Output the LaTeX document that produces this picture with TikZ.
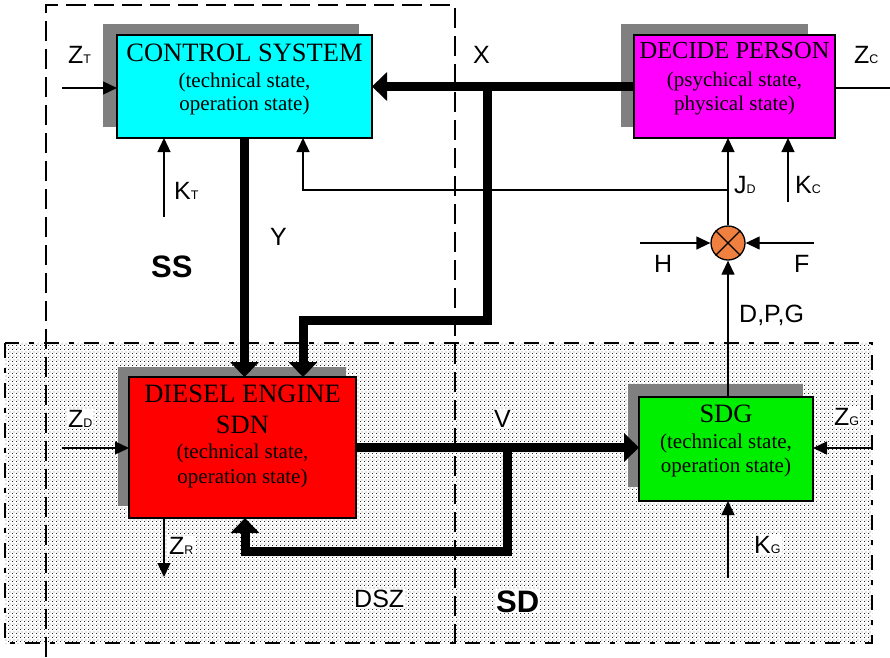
\documentclass[tikz,border=0pt]{standalone}
\usepackage{fontspec}
\setmainfont{Liberation Serif}
\setsansfont{Liberation Sans}
\usetikzlibrary{arrows.meta,patterns}
\definecolor{shadowgray}{RGB}{128,128,128}
\definecolor{sumorange}{RGB}{240,128,64}
\definecolor{boxcyan}{RGB}{0,255,255}
\definecolor{boxmag}{RGB}{255,0,255}
\definecolor{boxred}{RGB}{255,0,0}
\definecolor{boxgreen}{RGB}{0,238,0}
\pgfdeclarepatternformonly{finedots}{\pgfqpoint{0pt}{0pt}}{\pgfqpoint{4pt}{4pt}}{\pgfqpoint{4pt}{4pt}}{%
  \pgfpathrectangle{\pgfqpoint{0pt}{0pt}}{\pgfqpoint{1.1pt}{1.1pt}}%
  \pgfpathrectangle{\pgfqpoint{2pt}{2pt}}{\pgfqpoint{1.1pt}{1.1pt}}%
  \pgfusepath{fill}}
\newcommand\lsub[1]{{\fontsize{12.5}{12.5}\selectfont #1}}
\tikzset{
  shadowbox/.style={fill=shadowgray, draw=none, inner sep=0pt, anchor=north west, outer sep=0pt},
  mainbox/.style={draw=black, line width=1.5pt, inner sep=0pt, anchor=north west, outer sep=0pt},
  ttl/.style={font=\fontsize{26.5}{28}\selectfont, anchor=base, inner sep=0pt},
  subt/.style={font=\fontsize{21}{23}\selectfont, anchor=base, inner sep=0pt},
  lab/.style={font=\fontsize{25}{25}\selectfont\sffamily, inner sep=1pt, anchor=base west, fill=white},
  boldlab/.style={font=\fontsize{31}{31}\selectfont\sffamily\bfseries, inner sep=1pt, anchor=base west, fill=white},
  thinarrow/.style={line width=1.3pt, -{Triangle[length=14pt,width=13pt]}},
  thinline/.style={line width=1.3pt},
  thickarrow/.style={line width=9pt, -{Triangle[length=15pt,width=28pt]}},
  regiondash/.style={line width=1.2pt, dash pattern=on 20pt off 8pt},
  shadedash/.style={line width=1.2pt, dash pattern=on 15pt off 10pt on 5pt off 10pt},
}
\begin{document}
\begin{tikzpicture}[x=1pt,y=-1pt]
\useasboundingbox (0,0) rectangle (890,657);
% shaded region
\fill[white] (5,343) rectangle (872,643);
\fill[pattern=finedots, pattern color=black!85] (5,343) rectangle (872,643);
\draw[shadedash] (5,343) rectangle (872,643);
% SS region
\draw[regiondash] (46,657) -- (46,5) -- (455,5) -- (455,650);

% boxes
\node[shadowbox, minimum width=256pt, minimum height=103pt] (csh) at (103,24) {};
\node[mainbox, fill=boxcyan, minimum width=255pt, minimum height=103pt] (cs) at (117,35) {};
\node[shadowbox, minimum width=187pt, minimum height=103pt] (dph) at (621,24) {};
\node[mainbox, fill=boxmag, minimum width=201pt, minimum height=103pt] (dp) at (634,35) {};
\node[shadowbox, minimum width=228pt, minimum height=139pt] (deh) at (118,367) {};
\node[mainbox, fill=boxred, minimum width=227pt, minimum height=141pt] (de) at (129,377) {};
\node[shadowbox, minimum width=175pt, minimum height=103pt] (sdgh) at (628,384) {};
\node[mainbox, fill=boxgreen, minimum width=174pt, minimum height=104pt] (sdg) at (639,397) {};

% box texts
\node[ttl] (cs1) at (244.5,61) {CONTROL SYSTEM};
\node[subt] (cs2) at (244.5,87) {(technical state,};
\node[subt] (cs3) at (244.5,110) {operation state)};
\node[ttl, font=\fontsize{24.5}{26}\selectfont] (dp1) at (734.5,58) {DECIDE PERSON};
\node[subt] (dp2) at (734.5,86) {(psychical state,};
\node[subt] (dp3) at (734.5,110) {physical state)};
\node[ttl] (de1) at (242.5,402) {DIESEL ENGINE};
\node[ttl] (de2) at (242.5,433) {SDN};
\node[subt] (de3) at (242.5,458) {(technical state,};
\node[subt] (de4) at (242.5,483) {operation state)};
\node[ttl] (sg1) at (726,422) {SDG};
\node[subt] (sg2) at (726,448) {(technical state,};
\node[subt] (sg3) at (726,472) {operation state)};

% summing junction
\node[circle, draw=black, line width=1.3pt, fill=sumorange, minimum size=34pt, inner sep=0pt] (sum) at (728,243) {};
\draw[thinline] (sum.north west) -- (sum.south east);
\draw[thinline] (sum.north east) -- (sum.south west);

% coordinates
\coordinate (xb) at (487,86.5);
\coordinate (xc) at (487,320);
\coordinate (xd) at (303,320);
\coordinate (vb) at (507,447.5);
\coordinate (fb1) at (507,551);
\coordinate (fb2) at (245,551);
\coordinate (jd) at (728,190);
\coordinate (fbx) at (303,190);
\coordinate (kc) at (788,202);
\coordinate (hh) at (640,243);
\coordinate (ff) at (814,243);
\coordinate (kg) at (728,578);
\coordinate (zg) at (872,448);
\coordinate (zd) at (62,448);
\coordinate (zr) at (164,577);
\coordinate (zt) at (62,88);
\coordinate (kt) at (164,217);
\coordinate (zc) at (890,88);

% thick connectors
\draw[thickarrow] (dp.west) -- (cs.east);
\draw[thickarrow] (xb) -- (xc) -- (xd) -- (xd |- de.north);
\draw[thickarrow] (cs.south) -- (cs.south |- de.north);
\draw[thickarrow] (de.east) -- (de.east -| sdg.west);
\draw[thickarrow] (vb) -- (fb1) -- (fb2) -- (fb2 |- de.south);

% thin connectors
\draw[thinarrow] (jd) -- (fbx) -- (fbx |- cs.south);
\draw[thinarrow] (sum.north) -- (sum.north |- dp.south);
\draw[thinarrow] (kc) -- (kc |- dp.south);
\draw[thinarrow] (hh) -- (sum.west);
\draw[thinarrow] (ff) -- (sum.east);
\draw[thinarrow] (sum.south |- sdg.north) -- (sum.south);
\draw[thinarrow] (kg) -- (kg |- sdg.south);
\draw[thinarrow] (zg) -- (zg -| sdg.east);
\draw[thinarrow] (zd) -- (zd -| de.west);
\draw[thinarrow] (zr |- de.south) -- (zr);
\draw[thinarrow] (zt) -- (zt -| cs.west);
\draw[thinarrow] (kt) -- (kt |- cs.south);
\draw[thinline] (dp.east |- zc) -- (zc);

% labels
\node[lab] (lzt) at (67,63) {Z\lsub{T}};
\node[lab] (lkt) at (173,199) {K\lsub{T}};
\node[lab] (ly) at (269,245) {Y};
\node[boldlab] (lss) at (150,277) {SS};
\node[lab] (lx) at (472,63) {X};
\node[lab] (lzc) at (853,63) {Z\lsub{C}};
\node[lab] (ljd) at (733,193) {J\lsub{D}};
\node[lab] (lkc) at (794,193) {K\lsub{C}};
\node[lab] (lh) at (653,272) {H};
\node[lab] (lf) at (793,272) {F};
\node[lab] (ldpg) at (738,322) {D,P,G};
\node[lab] (lzd) at (67,427) {Z\lsub{D}};
\node[lab] (lzr) at (168,554) {Z\lsub{R}};
\node[lab] (ldsz) at (353,607) {DSZ};
\node[lab] (lv) at (493,427) {V};
\node[boldlab] (lsd) at (495,612) {SD};
\node[lab] (lzg) at (833,425) {Z\lsub{G}};
\node[lab] (lkg) at (753,553) {K\lsub{G}};
\end{tikzpicture}
\end{document}
